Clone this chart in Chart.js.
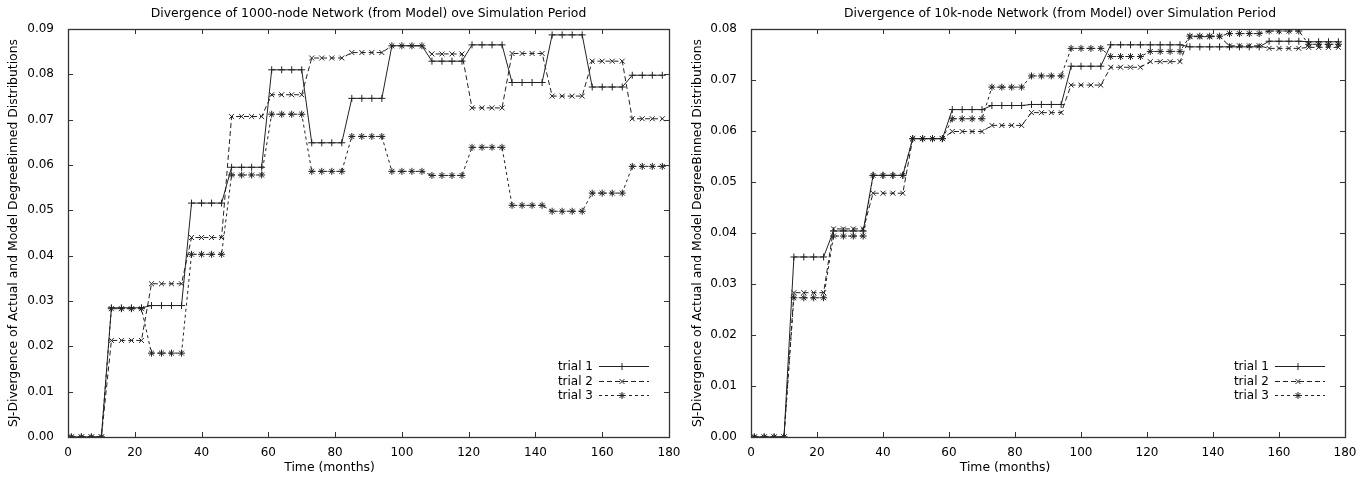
<!DOCTYPE html>
<html><head><meta charset="utf-8">
<script src="https://cdn.jsdelivr.net/npm/chart.js@4"></script>
<style>
html,body{margin:0;padding:0;background:#fff;width:1369px;height:483px;overflow:hidden}
#l{position:absolute;left:0;top:0;width:684px;height:483px}
#r{position:absolute;left:684px;top:0;width:685px;height:483px}
</style></head>
<body>
<canvas id="l" width="684" height="483"></canvas>
<canvas id="r" width="685" height="483"></canvas>
<script>
const months = [1,4,7,10,13,16,19,22,25,28,31,34,37,40,43,46,49,52,55,58,61,64,67,70,73,76,79,82,85,88,91,94,97,100,103,106,109,112,115,118,121,124,127,130,133,136,139,142,145,148,151,154,157,160,163,166,169,172,175,178];
const trialLabels = ['trial 1','trial 2','trial 3'];
const xTicks = [0,20,40,60,80,100,120,140,160,180];
const yTicksLeft = [0,0.01,0.02,0.03,0.04,0.05,0.06,0.07,0.08,0.09];
const yTicksRight = [0,0.01,0.02,0.03,0.04,0.05,0.06,0.07,0.08];

const left1 = [0,0,0,0, 0.0285,0.0285,0.0285,0.0285, 0.029,0.029,0.029,0.029, 0.0516,0.0516,0.0516,0.0516, 0.0595,0.0595,0.0595,0.0595, 0.081,0.081,0.081,0.081, 0.0649,0.0649,0.0649,0.0649, 0.0747,0.0747,0.0747,0.0747, 0.0863,0.0863,0.0863,0.0863, 0.0829,0.0829,0.0829,0.0829, 0.0865,0.0865,0.0865,0.0865, 0.0782,0.0782,0.0782,0.0782, 0.0887,0.0887,0.0887,0.0887, 0.0772,0.0772,0.0772,0.0772, 0.0798,0.0798,0.0798,0.0798];
const left2 = [0,0,0,0, 0.0213,0.0213,0.0213,0.0213, 0.0338,0.0338,0.0338,0.0338, 0.0440,0.0440,0.0440,0.0440, 0.0707,0.0707,0.0707,0.0707, 0.0755,0.0755,0.0755,0.0755, 0.0836,0.0836,0.0836,0.0836, 0.0848,0.0848,0.0848,0.0848, 0.0863,0.0863,0.0863,0.0863, 0.0845,0.0845,0.0845,0.0845, 0.0726,0.0726,0.0726,0.0726, 0.0846,0.0846,0.0846,0.0846, 0.0752,0.0752,0.0752,0.0752, 0.0829,0.0829,0.0829,0.0829, 0.0702,0.0702,0.0702,0.0702];
const left3 = [0,0,0,0, 0.0283,0.0283,0.0283,0.0283, 0.0185,0.0185,0.0185,0.0185, 0.0403,0.0403,0.0403,0.0403, 0.0578,0.0578,0.0578,0.0578, 0.0712,0.0712,0.0712,0.0712, 0.0586,0.0586,0.0586,0.0586, 0.0663,0.0663,0.0663,0.0663, 0.0586,0.0586,0.0586,0.0586, 0.0577,0.0577,0.0577,0.0577, 0.0639,0.0639,0.0639,0.0639, 0.0511,0.0511,0.0511,0.0511, 0.0498,0.0498,0.0498,0.0498, 0.0538,0.0538,0.0538,0.0538, 0.0597,0.0597,0.0597,0.0597];

const right1 = [0,0,0,0, 0.0353,0.0353,0.0353,0.0353, 0.0404,0.0404,0.0404,0.0404, 0.0513,0.0513,0.0513,0.0513, 0.0585,0.0585,0.0585,0.0585, 0.0642,0.0642,0.0642,0.0642, 0.0650,0.0650,0.0650,0.0650, 0.0652,0.0652,0.0652,0.0652, 0.0727,0.0727,0.0727,0.0727, 0.0769,0.0769,0.0769,0.0769, 0.0769,0.0769,0.0769,0.0769, 0.0765,0.0765,0.0765,0.0765, 0.0765,0.0765,0.0765,0.0765, 0.0776,0.0776,0.0776,0.0776, 0.0775,0.0775,0.0775,0.0775];
const right2 = [0,0,0,0, 0.0283,0.0283,0.0283,0.0283, 0.0408,0.0408,0.0408,0.0408, 0.0478,0.0478,0.0478,0.0478, 0.0585,0.0585,0.0585,0.0585, 0.0599,0.0599,0.0599,0.0599, 0.0611,0.0611,0.0611,0.0611, 0.0636,0.0636,0.0636,0.0636, 0.0690,0.0690,0.0690,0.0690, 0.0725,0.0725,0.0725,0.0725, 0.0736,0.0736,0.0736,0.0736, 0.0785,0.0785,0.0785,0.0785, 0.0767,0.0767,0.0767,0.0767, 0.0762,0.0762,0.0762,0.0762, 0.0764,0.0764,0.0764,0.0764];
const right3 = [0,0,0,0, 0.0273,0.0273,0.0273,0.0273, 0.0394,0.0394,0.0394,0.0394, 0.0513,0.0513,0.0513,0.0513, 0.0585,0.0585,0.0585,0.0585, 0.0624,0.0624,0.0624,0.0624, 0.0686,0.0686,0.0686,0.0686, 0.0708,0.0708,0.0708,0.0708, 0.0762,0.0762,0.0762,0.0762, 0.0746,0.0746,0.0746,0.0746, 0.0756,0.0756,0.0756,0.0756, 0.0786,0.0786,0.0786,0.0786, 0.0791,0.0791,0.0791,0.0791, 0.0796,0.0796,0.0796,0.0796, 0.0770,0.0770,0.0770,0.0770];

const FAM = "'DejaVu Sans', sans-serif";
const INK = '#222';
const dashes = [[], [5,3], [3,3]];
const pStyles = ['cross','crossRot','star'];

const framePlugin = {
  id:'frame',
  afterDatasetsDraw(chart){
    const {ctx, chartArea:a, scales:{x,y}} = chart;
    ctx.save();
    ctx.strokeStyle = '#333'; ctx.lineWidth = 1;
    const L = 5;
    ctx.beginPath();
    x.ticks.forEach(t=>{
      const px = Math.round(x.getPixelForValue(t.value))+0.5;
      ctx.moveTo(px, a.bottom); ctx.lineTo(px, a.bottom-L);
      ctx.moveTo(px, a.top); ctx.lineTo(px, a.top+L);
    });
    y.ticks.forEach(t=>{
      const py = Math.round(y.getPixelForValue(t.value))+0.5;
      ctx.moveTo(a.left, py); ctx.lineTo(a.left+L, py);
      ctx.moveTo(a.right, py); ctx.lineTo(a.right-L, py);
    });
    ctx.stroke();
    ctx.lineWidth = 1.3;
    ctx.strokeRect(Math.round(a.left)+0.5, Math.round(a.top)+0.5, Math.round(a.right-a.left), Math.round(a.bottom-a.top));
    ctx.restore();
  }
};

const keyPlugin = {
  id:'key',
  afterDraw(chart){
    const {ctx, chartArea:a} = chart;
    const o = chart.options.plugins.key;
    ctx.save();
    ctx.fillStyle = '#000';
    ctx.textAlign = 'center'; ctx.textBaseline = 'middle';
    ctx.font = "12.4px " + FAM;
    ctx.fillText(o.title, (a.left+a.right)/2 + o.titleShift, 13.5);
    ctx.fillText(o.xTitle, (a.left+a.right)/2 + o.xTitleShift, 468);
    chart.data.datasets.forEach((ds,i)=>{
      const yy = Math.round(a.bottom - 71 + i*14.5)+0.5;
      ctx.fillStyle = '#000';
      ctx.font = "12px " + FAM;
      ctx.textAlign = 'right'; ctx.textBaseline = 'middle';
      ctx.fillText(ds.label, a.right-76, yy);
      ctx.strokeStyle = INK; ctx.lineWidth = 1;
      ctx.setLineDash(ds.borderDash);
      ctx.beginPath(); ctx.moveTo(a.right-70, yy); ctx.lineTo(a.right-20, yy); ctx.stroke();
      ctx.setLineDash([]);
      Chart.helpers.drawPoint(ctx, {pointStyle: ds.pointStyle, radius: 3.5, borderWidth: 1, rotation: 0}, a.right-47, yy);
    });
    ctx.restore();
  }
};

function makeChart(id, title, titleShift, xTitleShift, series, yTicks, yWidth, padRight){
  const font = {family: FAM, size: 12};
  return new Chart(document.getElementById(id), {
    type:'line',
    data:{datasets: series.map((s,i)=>({
      label: trialLabels[i],
      data: months.map((m,j)=>({x:m, y:s[j]})),
      borderColor: INK, borderWidth: 1, borderDash: dashes[i],
      pointStyle: pStyles[i], pointRadius: 3.5, pointBorderWidth: 1,
      pointBorderColor: INK, pointBackgroundColor: 'transparent',
      backgroundColor: 'transparent', fill: false, tension: 0
    }))},
    options:{
      responsive:false, animation:false, devicePixelRatio:1,
      layout:{padding:{top:29, right:padRight, left:0, bottom:0}},
      plugins:{
        legend:{display:false}, tooltip:{enabled:false}, title:{display:false},
        key:{title, titleShift, xTitle:'Time (months)', xTitleShift}
      },
      scales:{
        x:{type:'linear', min:xTicks[0], max:xTicks[xTicks.length-1],
           afterBuildTicks: s=>{ s.ticks = xTicks.map(v=>({value:v})); },
           ticks:{color:'#000', font, padding:1, maxRotation:0},
           grid:{display:false}, border:{display:false},
           afterFit: s=>{ s.height = 46; }},
        y:{type:'linear', min:yTicks[0], max:yTicks[yTicks.length-1],
           afterBuildTicks: s=>{ s.ticks = yTicks.map(v=>({value:v})); },
           ticks:{color:'#000', font, padding:6, callback:v=>v.toFixed(2)},
           grid:{display:false}, border:{display:false},
           title:{display:true, text:'SJ-Divergence of Actual and Model DegreeBinned Distributions', color:'#000', font:{family:FAM,size:12.4}, padding:{top:6,bottom:0}},
           afterFit: s=>{ s.width = yWidth; }}
      }
    },
    plugins:[framePlugin, keyPlugin]
  });
}

makeChart('l', 'Divergence of 1000-node Network (from Model) ove Simulation Period', 0, -39, [left1,left2,left3], yTicksLeft, 68, 15);
makeChart('r', 'Divergence of 10k-node Network (from Model) over Simulation Period', 12, -43, [right1,right2,right3], yTicksRight, 67, 24);
</script>
</body></html>
